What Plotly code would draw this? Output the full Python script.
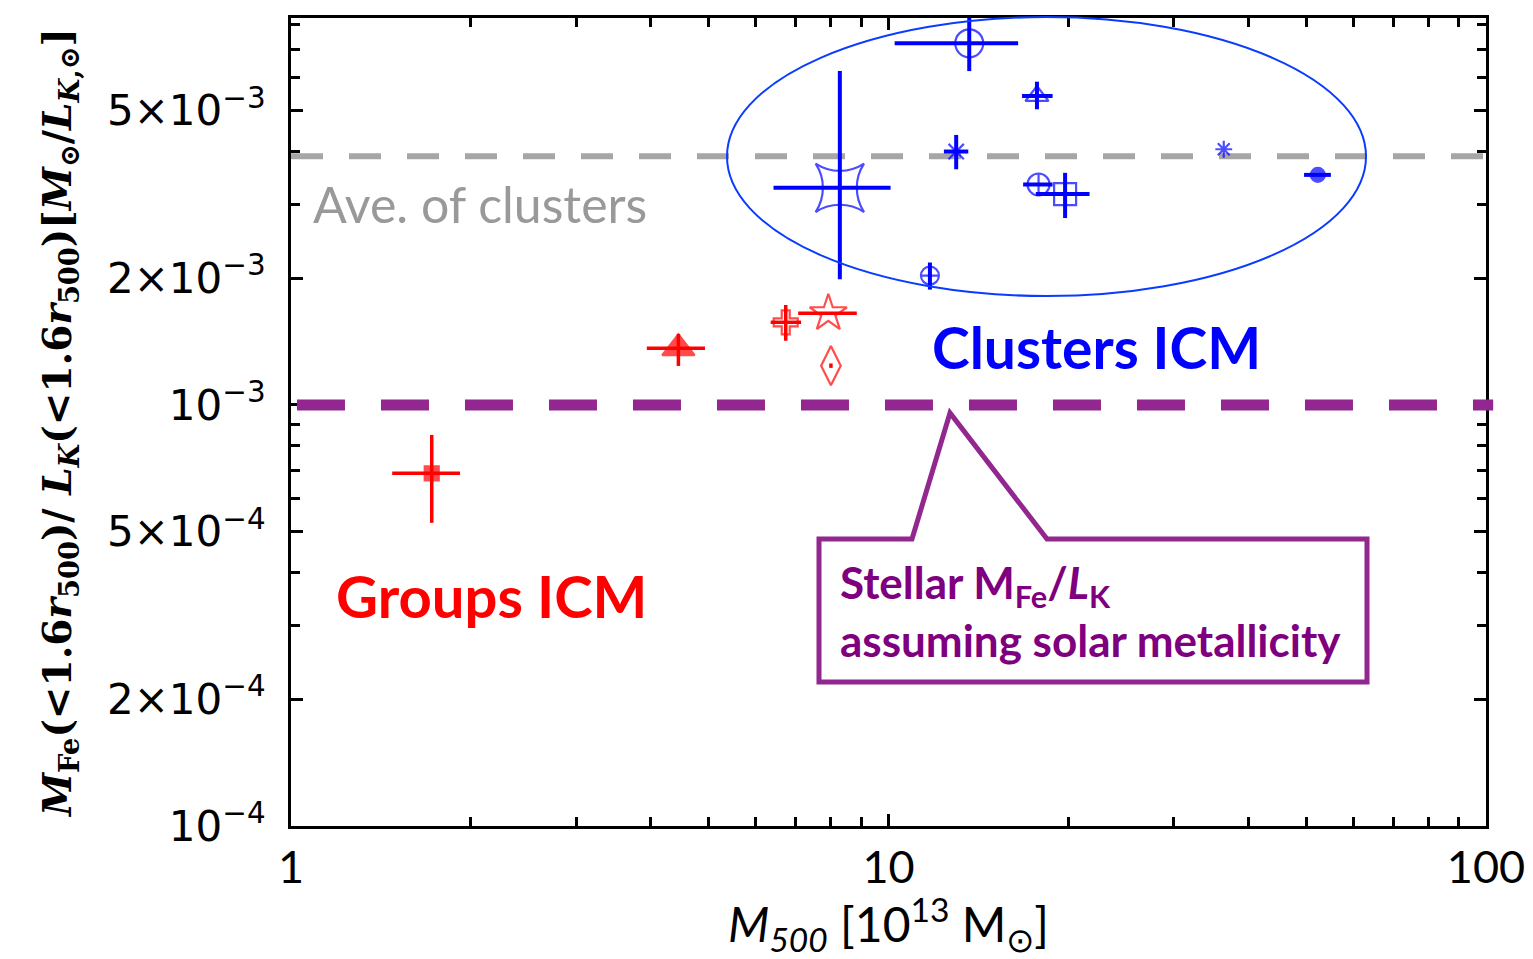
import plotly.graph_objects as go

# Cluster ICM measurements: M500 [1e13 Msun] and MFe/LK [Msun/LK,sun]
cl_m500 = [13.65, 17.72, 12.98, 36.4, 52.3, 17.83, 19.75, 8.29, 11.73]
cl_m500_lo = [10.24, 16.73, 12.38, 36.4, 49.6, 16.8, 17.64, 6.42, 11.73]
cl_m500_hi = [16.48, 18.82, 13.60, 36.4, 55.0, 18.82, 21.70, 10.08, 11.73]
cl_ratio = [7.23e-3, 5.42e-3, 4.00e-3, 4.05e-3, 3.52e-3, 3.34e-3, 3.17e-3, 3.28e-3, 2.03e-3]
cl_ratio_lo = [6.21e-3, 5.04e-3, 3.63e-3, 4.05e-3, 3.52e-3, 3.34e-3, 2.78e-3, 1.99e-3, 1.88e-3]
cl_ratio_hi = [8.60e-3, 5.86e-3, 4.38e-3, 4.05e-3, 3.52e-3, 3.34e-3, 3.56e-3, 6.21e-3, 2.18e-3]
cl_symbols = ["circle-cross-open", "triangle-up-open", "asterisk-open", "asterisk-open",
              "circle", "circle-cross-open", "square-cross-open", "star-square-open",
              "circle-cross-open"]
cl_sizes = [28, 20, 18, 14, 14, 22, 22, 44, 18]

# Group ICM measurements
gr_m500 = [1.72, 4.45, 6.73, 7.93, 8.01]
gr_m500_lo = [1.477, 3.94, 6.35, 7.06, 8.01]
gr_m500_hi = [1.918, 4.93, 7.14, 8.85, 8.01]
gr_ratio = [6.88e-4, 1.364e-3, 1.572e-3, 1.651e-3, 1.240e-3]
gr_ratio_lo = [5.25e-4, 1.238e-3, 1.421e-3, 1.640e-3, 1.225e-3]
gr_ratio_hi = [8.49e-4, 1.475e-3, 1.728e-3, 1.662e-3, 1.255e-3]
gr_symbols = ["square", "triangle-up", "cross-open", "star-open", "diamond-tall-open"]
gr_sizes = [14, 28, 20, 28, 28]

# Reference levels
ave_clusters = 3.9e-3
stellar_solar = 1.0e-3

# Axis ticks
x_tickvals = [1, 10, 100]
x_ticktext = ["1", "10", "100"]
x_minor = [2, 3, 4, 5, 6, 7, 8, 9, 20, 30, 40, 50, 60, 70, 80, 90]
y_tickvals = [1e-4, 2e-4, 5e-4, 1e-3, 2e-3, 5e-3]
y_ticktext = ["10<sup>−4</sup>", "2×10<sup>−4</sup>", "5×10<sup>−4</sup>",
              "10<sup>−3</sup>", "2×10<sup>−3</sup>", "5×10<sup>−3</sup>"]
y_minor = [3e-4, 4e-4, 6e-4, 7e-4, 8e-4, 9e-4, 3e-3, 4e-3, 6e-3, 7e-3, 8e-3]

BLUE = "#0000ff"
RED = "#ff0000"
PURPLE = "#92278f"
PURPLE_TXT = "#7f007f"


def errs(v, lo, hi):
    return [h - c for c, h in zip(v, hi)], [c - l for c, l in zip(v, lo)]


fig = go.Figure()

cx_p, cx_m = errs(cl_m500, cl_m500_lo, cl_m500_hi)
cy_p, cy_m = errs(cl_ratio, cl_ratio_lo, cl_ratio_hi)
fig.add_trace(go.Scatter(
    x=cl_m500, y=cl_ratio, mode="markers", cliponaxis=False,
    marker=dict(symbol=cl_symbols, size=cl_sizes, color=BLUE,
                line=dict(color=BLUE, width=2.2)),
    error_x=dict(type="data", symmetric=False, array=cx_p, arrayminus=cx_m,
                 color=BLUE, thickness=4, width=0),
    error_y=dict(type="data", symmetric=False, array=cy_p, arrayminus=cy_m,
                 color=BLUE, thickness=4, width=0),
    showlegend=False))

gx_p, gx_m = errs(gr_m500, gr_m500_lo, gr_m500_hi)
gy_p, gy_m = errs(gr_ratio, gr_ratio_lo, gr_ratio_hi)
fig.add_trace(go.Scatter(
    x=gr_m500, y=gr_ratio, mode="markers", cliponaxis=False,
    marker=dict(symbol=gr_symbols, size=gr_sizes, color=RED,
                line=dict(color=RED, width=2.2)),
    error_x=dict(type="data", symmetric=False, array=gx_p, arrayminus=gx_m,
                 color=RED, thickness=3.5, width=0),
    error_y=dict(type="data", symmetric=False, array=gy_p, arrayminus=gy_m,
                 color=RED, thickness=3.5, width=0),
    showlegend=False))

# paper-coordinate helpers for the decorations (plot area 291..1486 x 18..826 px)
L, R, T, B = 291, 1486, 18, 826


def px(x):
    return (x - L) / (R - L)


def py(y):
    return (B - y) / (B - T)


shapes = [
    # cluster average and stellar reference lines
    dict(type="line", xref="paper", yref="y", x0=0, x1=1.004,
         y0=ave_clusters, y1=ave_clusters,
         line=dict(color="#a6a6a6", width=6, dash="32px,26px"), layer="below"),
    dict(type="line", xref="paper", yref="y", x0=0.005, x1=1.006,
         y0=stellar_solar, y1=stellar_solar,
         line=dict(color=PURPLE, width=11, dash="48px,36px"), layer="above"),
    # ellipse around the clusters
    dict(type="circle", xref="paper", yref="paper",
         x0=px(727), x1=px(1366), y0=py(296), y1=py(17),
         line=dict(color="#0a3cff", width=2)),
    # callout box with pointer
    dict(type="path", xref="paper", yref="paper",
         path=(f"M {px(819)},{py(539)} L {px(912)},{py(539)} L {px(950)},{py(413)} "
               f"L {px(1047)},{py(539)} L {px(1367)},{py(539)} L {px(1367)},{py(682)} "
               f"L {px(819)},{py(682)} Z"),
         fillcolor="white", line=dict(color=PURPLE, width=5)),
]

annotations = [
    dict(text="Ave. of clusters", xref="paper", yref="paper", x=px(311), y=py(204),
         xanchor="left", yanchor="middle", showarrow=False,
         font=dict(family="Lato", size=50, color="#999999")),
    dict(text="<b>Clusters ICM</b>", xref="paper", yref="paper", x=px(930), y=py(347),
         xanchor="left", yanchor="middle", showarrow=False,
         font=dict(family="Lato", size=57, color=BLUE)),
    dict(text="<b>Groups ICM</b>", xref="paper", yref="paper", x=px(334), y=py(595),
         xanchor="left", yanchor="middle", showarrow=False,
         font=dict(family="Lato", size=58, color=RED)),
    dict(text="<b>Stellar M<sub>Fe</sub>/<i>L</i><sub>K</sub></b>", xref="paper", yref="paper",
         x=px(838), y=py(585), xanchor="left", yanchor="middle", showarrow=False,
         font=dict(family="Lato", size=44, color=PURPLE_TXT)),
    dict(text="<b>assuming solar metallicity</b>", xref="paper", yref="paper",
         x=px(838), y=py(640), xanchor="left", yanchor="middle", showarrow=False,
         font=dict(family="Lato", size=44, color=PURPLE_TXT)),
]

axis_common = dict(showline=True, linewidth=3, linecolor="black", mirror="ticks",
                   ticks="inside", tickwidth=2.5, tickcolor="black", showgrid=False,
                   zeroline=False, automargin=False)

fig.update_layout(
    template="none",
    width=1533, height=959,
    margin=dict(l=L, r=1533 - R, t=T, b=959 - B),
    paper_bgcolor="white", plot_bgcolor="white",
    shapes=shapes, annotations=annotations,
    xaxis=dict(type="log", range=[0, 2], tickvals=x_tickvals, ticktext=x_ticktext,
               ticklen=12, ticklabelstandoff=0,
               tickfont=dict(family="Lato", size=45, color="black"),
               minor=dict(tickvals=x_minor, ticks="inside", ticklen=9, tickwidth=2.5,
                          tickcolor="black"),
               title=dict(text="<i>M</i><sub><i>500</i></sub> [10<sup>13</sup> M<sub>⊙</sub>]",
                          font=dict(family="Lato", size=48, color="black"), standoff=12),
               **axis_common),
    yaxis=dict(type="log", range=[-4, -2.0808], tickvals=y_tickvals, ticktext=y_ticktext,
               ticklen=12, ticklabelstandoff=14,
               tickfont=dict(family="DejaVu Sans", size=42, color="black"),
               minor=dict(tickvals=y_minor, ticks="inside", ticklen=9, tickwidth=2.5,
                          tickcolor="black"),
               title=dict(text=("<b><i>M</i><sub>Fe</sub>(<1.6<i>r</i><sub>500</sub>)/ "
                                "<i>L</i><sub><i>K</i></sub>(<1.6<i>r</i><sub>500</sub>)"
                                "[<i>M</i><sub>⊙</sub>/<i>L</i><sub><i>K</i>,⊙</sub>]</b>"),
                          font=dict(family="DejaVu Serif", size=39, color="black"),
                          standoff=24),
               **axis_common),
)

fig.write_html("out.html")
